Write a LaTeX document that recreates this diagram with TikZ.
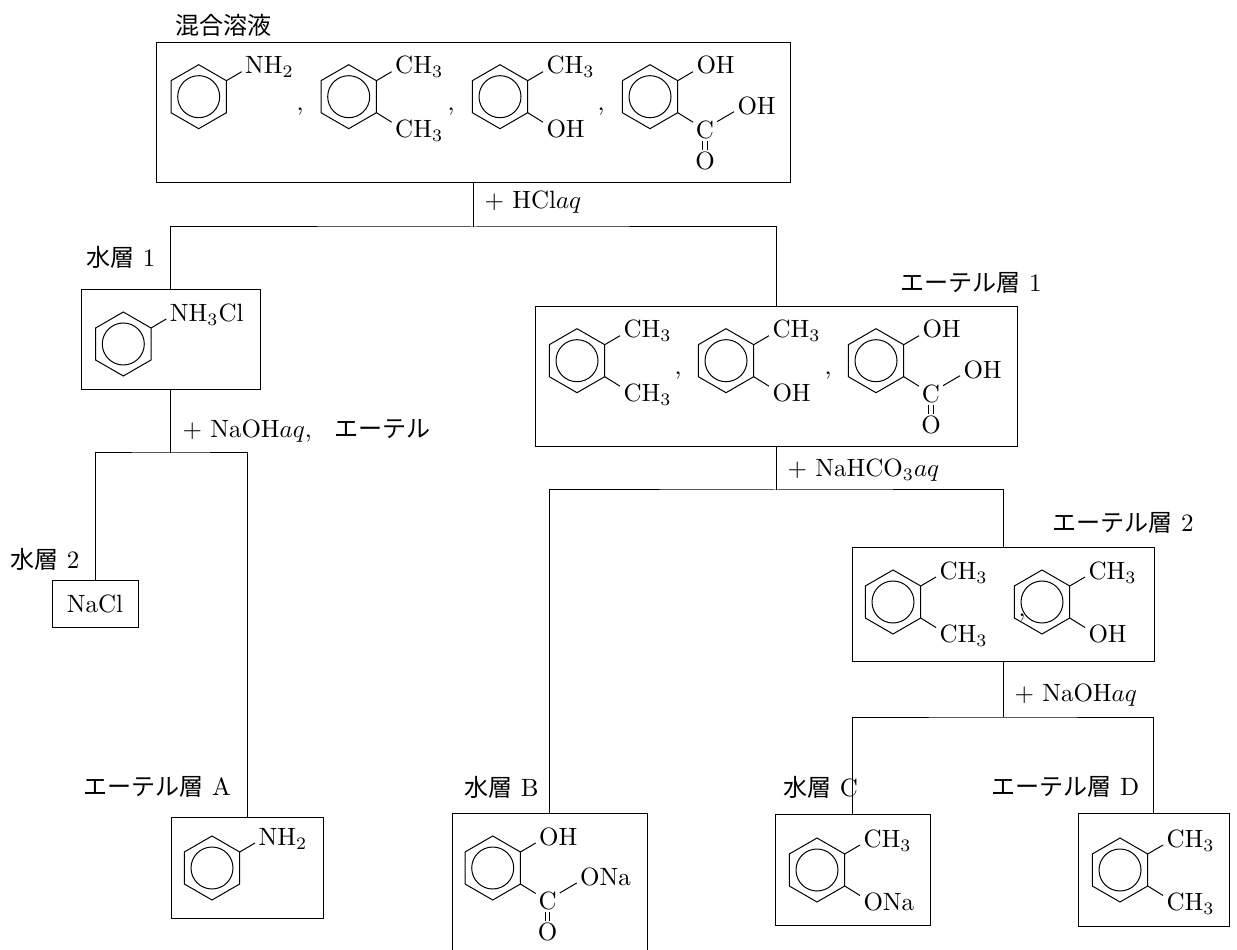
\documentclass[tikz,border=0pt]{standalone}
\usepackage{fontspec}
\usepackage{amsmath}
\usepackage{tikz}
\usetikzlibrary{positioning,calc}
\newfontfamily\jpfont[Scale=0.962]{Noto Sans CJK JP}
\newcommand{\jp}[1]{{\jpfont #1}}
\newcommand{\hexring}{
  \draw (0,-32)--(27.7,-16)--(27.7,16)--(0,32)--(-27.7,16)--(-27.7,-16)--cycle;
  \draw (0,0) circle[radius=21];
  \coordinate (-ne) at (27.7,-16);
  \coordinate (-se) at (27.7,16);
  \coordinate (-upend) at (43,-25);
  \coordinate (-downend) at (43,25.5);
}
\begin{document}
\begin{tikzpicture}[
  x=0.4pt,y=-0.4pt,
  box/.style 2 args={draw,inner sep=0pt,minimum width=#1*0.4pt,minimum height=#2*0.4pt},
  chem/.style={inner sep=0pt,anchor=base west},
  lab/.style={inner sep=0pt,anchor=west},
  pics/ringone/.style={code={
    \hexring
    \node[chem] (-upper) at (46,-22.7) {#1};
    \draw (-ne)--(-upend);
  }},
  pics/ringtwo/.style 2 args={code={
    \hexring
    \node[chem] (-upper) at (46,-22.7) {#1};
    \node[chem] (-lower) at (46,40.7) {#2};
    \draw (-ne)--(-upend);
    \draw (-se)--(-downend);
  }},
  pics/ringacid/.style={code={
    \hexring
    \node[chem] (-upper) at (46,-22.7) {OH};
    \node[inner sep=0pt] (-carbon) at (55,33) {C};
    \node[inner sep=0pt] (-oxygen) at (55,64) {O};
    \node[chem] (-side) at (87,17.5) {#1};
    \coordinate (-cside) at (67,25);
    \coordinate (-sideend) at (84,15);
    \draw (-ne)--(-upend);
    \draw (-se)--(-downend);
    \draw (-cside)--(-sideend);
    \draw[shorten >=0.6pt,shorten <=0.6pt] ([xshift=-0.9pt]-carbon.south)--([xshift=-0.9pt]-oxygen.north);
    \draw[shorten >=0.6pt,shorten <=0.6pt] ([xshift=0.9pt]-carbon.south)--([xshift=0.9pt]-oxygen.north);
  }}
]
\useasboundingbox (0,0) rectangle (1237,950);
\node[box={634}{140}] (mixbox) at (473.5,113) {};
\node[box={179}{100}] (aqonebox) at (170.5,339.5) {};
\node[box={482}{140}] (etheronebox) at (776,377) {};
\node[box={86}{46}] (saltbox) at (95,604) {};
\node[box={152}{101}] (aboxnode) at (247,867.5) {};
\node[box={195}{147}] (bboxnode) at (549.5,886.5) {};
\node[box={302}{113}] (ethertwobox) at (1003,604.5) {};
\node[box={155}{111}] (cboxnode) at (852.5,869.5) {};
\node[box={151}{113}] (dboxnode) at (1153.5,869.5) {};
\coordinate (splitone) at (473.5,227);
\coordinate (splittwo) at (170.5,453);
\coordinate (splitthree) at (776,490);
\coordinate (splitfour) at (1003,717);
\draw (mixbox.south)--(splitone);
\draw (aqonebox.north) |- (splitone) -| (etheronebox.north);
\draw (aqonebox.south)--(splittwo);
\draw (saltbox.north) |- (splittwo) -| (aboxnode.north);
\draw (etheronebox.south)--(splitthree);
\draw (bboxnode.north) |- (splitthree) -| (ethertwobox.north);
\draw (ethertwobox.south)--(splitfour);
\draw (cboxnode.north) |- (splitfour) -| (dboxnode.north);
\pic (ringa) at (198.7,96.7) {ringone={NH$_2$}};
\node[chem] (comma1) at (296,111) {,};
\pic (ringb) at (348.7,96.7) {ringtwo={CH$_3$}{CH$_3$}};
\node[chem] (comma2) at (447,111) {,};
\pic (ringc) at (500,96.7) {ringtwo={CH$_3$}{OH}};
\node[chem] (comma3) at (597,111) {,};
\pic (ringd) at (650,96.7) {ringacid={OH}};
\pic (ringe) at (123.3,344) {ringone={NH$_3$Cl}};
\pic (ringf) at (577,360.7) {ringtwo={CH$_3$}{CH$_3$}};
\node[chem] (comma4) at (674,375) {,};
\pic (ringg) at (726,360.7) {ringtwo={CH$_3$}{OH}};
\node[chem] (comma5) at (824,375) {,};
\pic (ringh) at (876,360.7) {ringacid={OH}};
\node[box={0}{0},draw=none,font=\normalsize] (saltlabel) at (95,604) {NaCl};
\pic (ringi) at (893,602) {ringtwo={CH$_3$}{CH$_3$}};
\node[chem] (comma6) at (1018,616) {,};
\pic (ringj) at (1042,602) {ringtwo={CH$_3$}{OH}};
\pic (ringk) at (212,868) {ringone={NH$_2$}};
\pic (ringl) at (492.7,868) {ringacid={ONa}};
\pic (ringm) at (817,870) {ringtwo={CH$_3$}{ONa}};
\pic (ringn) at (1120,870) {ringtwo={CH$_3$}{CH$_3$}};
\node[lab] (mixlabel) at (175,25) {\jp{混合溶液}};
\node[lab] (hcllabel) at (484,202) {$+$ HCl$aq$};
\node[lab] (aqonelabel) at (86,257) {\jp{水層} 1};
\node[lab] (etheronelabel) at (900,283) {\jp{エーテル層} 1};
\node[lab] (naohonelabel) at (182,431) {$+$ NaOH$aq$,\hspace{0.9em}\jp{エーテル}};
\node[lab] (aqtwolabel) at (10,559) {\jp{水層} 2};
\node[lab] (carblabel) at (787,470) {$+$ NaHCO$_3$$aq$};
\node[lab] (ethertwolabel) at (1052,523) {\jp{エーテル層} 2};
\node[lab] (naohtwolabel) at (1014,695) {$+$ NaOH$aq$};
\node[lab] (etheralabel) at (83,787) {\jp{エーテル層} A};
\node[lab] (aqblabel) at (464,787) {\jp{水層} B};
\node[lab] (aqclabel) at (783,787) {\jp{水層} C};
\node[lab] (etherdlabel) at (991,787) {\jp{エーテル層} D};
\end{tikzpicture}
\end{document}
